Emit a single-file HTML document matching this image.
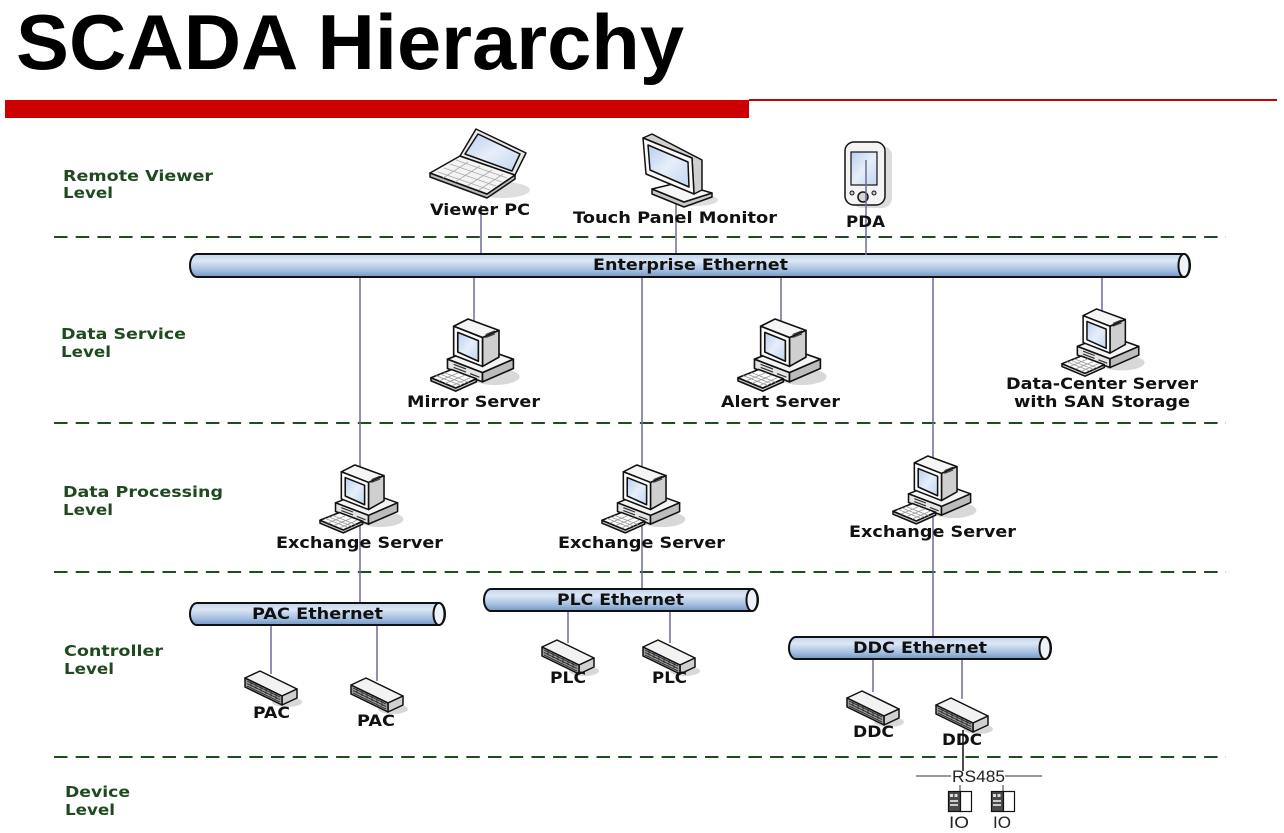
<!DOCTYPE html>
<html><head><meta charset="utf-8"><style>
html,body{margin:0;padding:0;background:#fff;}
svg{display:block;}
.b{font-family:"DejaVu Sans","Liberation Sans",sans-serif;font-weight:bold;font-size:16px;fill:#111;}
.g{font-family:"DejaVu Sans","Liberation Sans",sans-serif;font-weight:bold;font-size:15.5px;fill:#1f4a1f;}
.r{font-family:"Liberation Sans","DejaVu Sans",sans-serif;font-size:16.5px;fill:#222;}
</style></head><body>
<svg width="1284" height="833" viewBox="0 0 1284 833" xmlns="http://www.w3.org/2000/svg">
<defs>
 <linearGradient id="pg" x1="0" y1="0" x2="0" y2="1">
  <stop offset="0" stop-color="#c2d6ed"/>
  <stop offset="0.3" stop-color="#dbe7f4"/>
  <stop offset="0.7" stop-color="#a4bfe0"/>
  <stop offset="1" stop-color="#7597c4"/>
 </linearGradient>
 <linearGradient id="scr" x1="0" y1="0" x2="1" y2="1">
  <stop offset="0" stop-color="#b9cfee"/>
  <stop offset="0.5" stop-color="#e6eefa"/>
  <stop offset="1" stop-color="#c3d5ef"/>
 </linearGradient>
 <g id="pc" stroke="#111" stroke-width="1.6" stroke-linejoin="round">
  <ellipse cx="62" cy="57" rx="24" ry="8" fill="#d8d8d8" stroke="none"/>
  <polygon points="16,40 46,28 80,40 50,53" fill="#f4f4f4"/>
  <polygon points="16,40 50,53 50,62 16,49" fill="#e4e4e4"/>
  <polygon points="50,53 80,40 80,49 50,62" fill="#bcbcbc"/>
  <path d="M22,45 L34,49.5 M22,48 L34,52.5 M38,54 L47,57.5" stroke="#333" stroke-width="1.2" fill="none"/>
  <polygon points="22,8 36,1 66,12 50,19" fill="#f5f5f5"/>
  <polygon points="50,19 66,12 66,38 50,47" fill="#cfcfcf"/>
  <polygon points="22,8 50,19 50,47 22,36" fill="#fbfbfb"/>
  <polygon points="26,14 46,22 46,42 26,33" fill="url(#scr)"/>
  <path d="M53,16 L62,12.5 M53,19 L62,15.5" stroke="#333" stroke-width="1" fill="none"/>
  <polygon points="0,58 0,61 24,71 44,62 44,59 24,68" fill="#c8c8c8"/>
  <polygon points="0,58 20,50 44,59 24,68" fill="#fdfdfd"/>
  <path d="M5,56 L29,65.5 M9,54.5 L33,64 M13,53 L37,62.5 M8,61 L27,53 M14,63.5 L33,55.5 M20,66 L38,58" stroke="#999" stroke-width="0.8" fill="none"/>
 </g>
 <g id="sw" stroke="#111" stroke-width="1.5" stroke-linejoin="round">
  <ellipse cx="42" cy="31" rx="15" ry="5" fill="#d8d8d8" stroke="none"/>
  <polygon points="0,7 15,0 52,18 37,25" fill="#f2f2f2"/>
  <polygon points="37,25 52,18 52,27 37,34" fill="#d0d0d0"/>
  <polygon points="0,7 37,25 37,34 0,16" fill="#9a9a9a"/>
  <path d="M2,10 L35,26 M2,12.5 L35,28.5 M2,15 L35,31 M6,9.5 L6,15.5 M11,12 L11,18 M16,14.5 L16,20.5 M21,17 L21,23 M26,19.5 L26,25.5 M31,22 L31,28" stroke="#222" stroke-width="0.8" fill="none"/>
 </g>
 <g id="io" stroke="#111" stroke-width="1.2">
  <rect x="0.5" y="0.5" width="12" height="20" fill="#4a4a4a"/>
  <rect x="12.5" y="0.5" width="11" height="20" fill="#fff"/>
  <rect x="2" y="3" width="3" height="3" fill="#ddd" stroke="none"/>
  <rect x="6.5" y="3" width="3" height="3" fill="#ddd" stroke="none"/>
  <rect x="2" y="9" width="8" height="2" fill="#ccc" stroke="none"/>
  <rect x="2" y="13" width="8" height="2" fill="#ccc" stroke="none"/>
 </g>
</defs>

<!-- Title -->
<text x="16" y="69" font-family="'Liberation Sans','DejaVu Sans',sans-serif" font-weight="bold" font-size="78" fill="#000" textLength="668" lengthAdjust="spacingAndGlyphs">SCADA Hierarchy</text>
<rect x="5" y="100" width="744" height="18" fill="#cc0000"/>
<rect x="749" y="99" width="528" height="2" fill="#cc0000"/>

<!-- Dashed separators -->
<g stroke="#1f4d1f" stroke-width="2" stroke-dasharray="13.5 8.2">
 <line x1="54" y1="237" x2="1226" y2="237"/>
 <line x1="54" y1="423" x2="1226" y2="423"/>
 <line x1="54" y1="572" x2="1226" y2="572"/>
 <line x1="54" y1="757" x2="1226" y2="757"/>
</g>

<!-- Level labels -->
<text class="g" x="63" y="181" textLength="150" lengthAdjust="spacingAndGlyphs">Remote Viewer</text>
<text class="g" x="63" y="198" textLength="50" lengthAdjust="spacingAndGlyphs">Level</text>
<text class="g" x="61" y="339" textLength="125" lengthAdjust="spacingAndGlyphs">Data Service</text>
<text class="g" x="61" y="357" textLength="50" lengthAdjust="spacingAndGlyphs">Level</text>
<text class="g" x="63" y="497" textLength="160" lengthAdjust="spacingAndGlyphs">Data Processing</text>
<text class="g" x="63" y="515" textLength="50" lengthAdjust="spacingAndGlyphs">Level</text>
<text class="g" x="64" y="656" textLength="99" lengthAdjust="spacingAndGlyphs">Controller</text>
<text class="g" x="64" y="674" textLength="50" lengthAdjust="spacingAndGlyphs">Level</text>
<text class="g" x="65" y="797" textLength="65" lengthAdjust="spacingAndGlyphs">Device</text>
<text class="g" x="65" y="815" textLength="50" lengthAdjust="spacingAndGlyphs">Level</text>

<!-- Connectors -->
<g stroke="#6c6c9c" stroke-width="1.5">
 <line x1="481" y1="205" x2="481" y2="255"/>
 <line x1="676" y1="195" x2="676" y2="255"/>
 <line x1="474" y1="277" x2="474" y2="322"/>
 <line x1="781" y1="277" x2="781" y2="322"/>
 <line x1="1102" y1="277" x2="1102" y2="312"/>
 <line x1="360" y1="277" x2="360" y2="604"/>
 <line x1="642" y1="277" x2="642" y2="590"/>
 <line x1="933" y1="277" x2="933" y2="638"/>
 <line x1="271" y1="625" x2="271" y2="674"/>
 <line x1="377" y1="625" x2="377" y2="681"/>
 <line x1="568" y1="611" x2="568" y2="643"/>
 <line x1="670" y1="611" x2="670" y2="643"/>
 <line x1="873" y1="659" x2="873" y2="692"/>
 <line x1="962" y1="659" x2="962" y2="699"/>
</g>

<!-- Pipes -->
<g stroke="#111" stroke-width="2">
 <path d="M197,254 L1184,254 A6,11.5 0 0 1 1184,277 L197,277 A7,11.5 0 0 1 197,254 Z" fill="url(#pg)"/>
 <ellipse cx="1184" cy="265.5" rx="5.5" ry="11.5" fill="#eef3fa"/>
 <path d="M197,603 L439,603 A6,11 0 0 1 439,625 L197,625 A7,11 0 0 1 197,603 Z" fill="url(#pg)"/>
 <ellipse cx="439" cy="614" rx="5.5" ry="11" fill="#eef3fa"/>
 <path d="M491,589 L752,589 A6,11 0 0 1 752,611 L491,611 A7,11 0 0 1 491,589 Z" fill="url(#pg)"/>
 <ellipse cx="752" cy="600" rx="5.5" ry="11" fill="#eef3fa"/>
 <path d="M796,637 L1045,637 A6,11 0 0 1 1045,659 L796,659 A7,11 0 0 1 796,637 Z" fill="url(#pg)"/>
 <ellipse cx="1045" cy="648" rx="5.5" ry="11" fill="#eef3fa"/>
</g>
<text class="b" x="593" y="270" textLength="195" lengthAdjust="spacingAndGlyphs">Enterprise Ethernet</text>
<text class="b" x="252" y="619" textLength="131" lengthAdjust="spacingAndGlyphs">PAC Ethernet</text>
<text class="b" x="557" y="605" textLength="127" lengthAdjust="spacingAndGlyphs">PLC Ethernet</text>
<text class="b" x="853" y="653" textLength="134" lengthAdjust="spacingAndGlyphs">DDC Ethernet</text>

<!-- Laptop -->
<g stroke="#111" stroke-width="1.5" stroke-linejoin="round">
 <ellipse cx="502" cy="190" rx="28" ry="8" fill="#dedede" stroke="none"/>
 <polygon points="430,173 430,177 487,198 515,179 515,175 487,194" fill="#bbbbbb"/>
 <polygon points="430,173 460,156 515,175 487,194" fill="#f4f4f4"/>
 <path d="M438,172 L490,190 M444,168 L496,186 M450,164 L502,182 M456,160 L507,178 M443,178 L468,162 M455,182 L480,166 M467,186 L492,170 M479,190 L503,174" stroke="#aaa" stroke-width="0.8" fill="none"/>
 <polygon points="460,156 476,129 526,153 515,175" fill="#e8e8e8"/>
 <polygon points="465,154 478,134 520,154 512,171" fill="url(#scr)"/>
</g>
<!-- Touch panel monitor -->
<g stroke="#111" stroke-width="1.5" stroke-linejoin="round">
 <ellipse cx="696" cy="200" rx="22" ry="6" fill="#dedede" stroke="none"/>
 <polygon points="652,189 652,194 684,207 712,197 712,193 684,202" fill="#c8c8c8"/>
 <polygon points="652,189 677,183 712,193 684,202" fill="#f6f6f6"/>
 <polygon points="643,138 652,134 702,160 702,190 694,194 692,158" fill="#cfcfcf"/>
 <polygon points="643,138 692,158 694,194 646,174" fill="#fafafa"/>
 <polygon points="648,145 688,162 689,187 650,170" fill="url(#scr)"/>
</g>
<!-- PDA -->
<g stroke="#111" stroke-width="1.5">
 <rect x="852" y="146" width="40" height="62" rx="10" fill="#dcdcdc" stroke="none"/>
 <rect x="845" y="142" width="40" height="63" rx="9" fill="#f4f4f4"/>
 <rect x="851" y="152" width="26" height="33" fill="url(#scr)" stroke-width="1.2"/>
 <circle cx="863" cy="197" r="5" fill="#d6d6d6"/>
 <circle cx="852" cy="193" r="2" fill="#ccc" stroke-width="1"/>
 <circle cx="874" cy="193" r="2" fill="#ccc" stroke-width="1"/>
</g>
<line x1="866" y1="160" x2="866" y2="255" stroke="#6c6c9c" stroke-width="1.5"/>

<text class="b" x="430" y="215" textLength="100" lengthAdjust="spacingAndGlyphs">Viewer PC</text>
<text class="b" x="573" y="223" textLength="204" lengthAdjust="spacingAndGlyphs">Touch Panel Monitor</text>
<text class="b" x="846" y="227" textLength="39" lengthAdjust="spacingAndGlyphs">PDA</text>

<!-- Computers -->
<use href="#pc" transform="translate(431,318) scale(1.03)"/>
<use href="#pc" transform="translate(738,318) scale(1.03)"/>
<use href="#pc" transform="translate(1062,308) scale(0.96)"/>
<use href="#pc" transform="translate(320,464) scale(0.97)"/>
<use href="#pc" transform="translate(602,464) scale(0.97)"/>
<use href="#pc" transform="translate(893,455) scale(0.97)"/>

<text class="b" x="407" y="407" textLength="133" lengthAdjust="spacingAndGlyphs">Mirror Server</text>
<text class="b" x="721" y="407" textLength="119" lengthAdjust="spacingAndGlyphs">Alert Server</text>
<text class="b" x="1006" y="389" textLength="192" lengthAdjust="spacingAndGlyphs">Data-Center Server</text>
<text class="b" x="1014" y="407" textLength="176" lengthAdjust="spacingAndGlyphs">with SAN Storage</text>
<text class="b" x="276" y="548" textLength="167" lengthAdjust="spacingAndGlyphs">Exchange Server</text>
<text class="b" x="558" y="548" textLength="167" lengthAdjust="spacingAndGlyphs">Exchange Server</text>
<text class="b" x="849" y="537" textLength="167" lengthAdjust="spacingAndGlyphs">Exchange Server</text>

<!-- Controllers -->
<use href="#sw" transform="translate(245,671)"/>
<use href="#sw" transform="translate(351,678)"/>
<use href="#sw" transform="translate(542,640)"/>
<use href="#sw" transform="translate(643,640)"/>
<use href="#sw" transform="translate(847,691)"/>
<use href="#sw" transform="translate(936,698)"/>

<text class="b" x="253" y="718" textLength="37" lengthAdjust="spacingAndGlyphs">PAC</text>
<text class="b" x="357" y="726" textLength="38" lengthAdjust="spacingAndGlyphs">PAC</text>
<text class="b" x="550" y="683" textLength="36" lengthAdjust="spacingAndGlyphs">PLC</text>
<text class="b" x="652" y="683" textLength="35" lengthAdjust="spacingAndGlyphs">PLC</text>
<text class="b" x="853" y="737" textLength="41" lengthAdjust="spacingAndGlyphs">DDC</text>
<text class="b" x="942" y="745" textLength="40" lengthAdjust="spacingAndGlyphs">DDC</text>

<!-- RS485 / IO -->
<line x1="963" y1="730" x2="963" y2="771" stroke="#111" stroke-width="1.5"/>
<line x1="916" y1="776" x2="951" y2="776" stroke="#333" stroke-width="1"/>
<line x1="1005" y1="776" x2="1042" y2="776" stroke="#333" stroke-width="1"/>
<text class="r" x="952" y="782" textLength="53" lengthAdjust="spacingAndGlyphs">RS485</text>
<line x1="960" y1="785" x2="960" y2="792" stroke="#333" stroke-width="1"/>
<line x1="1003" y1="785" x2="1003" y2="792" stroke="#333" stroke-width="1"/>
<use href="#io" transform="translate(948,791)"/>
<use href="#io" transform="translate(991,791)"/>
<text class="r" x="949" y="828" textLength="20" lengthAdjust="spacingAndGlyphs">IO</text>
<text class="r" x="993" y="828" textLength="18" lengthAdjust="spacingAndGlyphs">IO</text>
</svg>
</body></html>
